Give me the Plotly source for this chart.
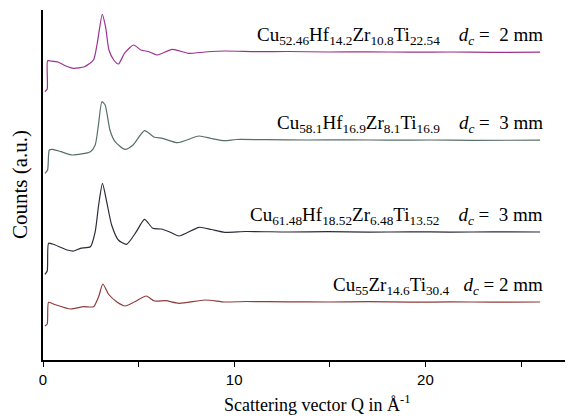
import plotly.graph_objects as go

# Scattering vector Q (1/Å) and relative counts (a.u.)
q_a = [0.10, 0.22, 0.24, 0.40, 0.78, 1.20, 1.60, 2.17, 2.64, 2.84, 3.10, 3.27, 3.45, 3.70, 3.95,
       4.26, 4.74, 5.12, 5.55, 5.98, 6.76, 7.62, 8.48, 9.51, 11.2, 12.8, 14.9, 17.0, 19.2, 21.3, 23.5, 26.0]
c_a = [268.3, 271.0, 299.3, 299.0, 298.0, 294.0, 291.7, 293.3, 300.0, 317.0, 345.7, 333.3, 310.0, 300.0, 296.0,
       306.7, 315.0, 310.0, 308.3, 305.0, 310.7, 306.7, 308.0, 309.0, 308.3, 308.5, 308.0, 308.2, 307.8, 308.0, 307.6, 307.8]

q_b = [0.10, 0.24, 0.33, 0.50, 0.94, 1.53, 2.48, 2.73, 2.91, 3.08, 3.25, 3.50, 3.77, 4.29, 4.71,
       5.31, 5.83, 6.25, 7.04, 8.16, 8.80, 9.51, 10.1, 11.7, 13.8, 16.0, 18.1, 20.3, 22.4, 26.0]
c_b = [186.7, 190.0, 210.0, 210.7, 208.3, 205.0, 208.3, 215.0, 236.7, 258.3, 255.0, 230.0, 218.3, 210.7, 215.0,
       229.3, 222.7, 221.7, 217.3, 224.0, 221.5, 219.3, 220.5, 220.3, 220.0, 220.2, 219.8, 220.0, 219.7, 219.8]

q_c = [0.10, 0.22, 0.29, 0.50, 1.27, 1.61, 1.95, 2.48, 2.73, 2.91, 3.11, 3.33, 3.59, 3.94, 4.37,
       4.88, 5.31, 5.74, 6.17, 6.60, 7.11, 8.16, 8.80, 9.51, 10.6, 12.8, 14.9, 17.0, 19.2, 21.3, 23.5, 26.0]
c_c = [85.7, 89.0, 116.7, 116.0, 110.0, 109.0, 111.7, 113.3, 128.3, 155.0, 176.7, 158.3, 135.0, 120.0, 115.7,
       128.3, 140.7, 131.7, 131.0, 128.3, 124.0, 132.7, 130.5, 127.7, 128.5, 128.0, 128.3, 127.8, 128.2, 127.9, 128.1, 128.0]

q_d = [0.10, 0.22, 0.29, 0.58, 1.44, 2.12, 2.64, 2.91, 3.13, 3.42, 3.85, 4.29, 4.80, 5.40, 5.83,
       6.43, 7.11, 8.48, 9.51, 10.6, 12.8, 14.9, 17.0, 19.2, 21.3, 23.5, 26.0]
c_d = [34.0, 36.0, 57.7, 55.7, 51.0, 53.3, 53.3, 63.3, 76.0, 66.0, 58.3, 54.0, 58.3, 64.0, 59.0,
       59.3, 56.7, 60.0, 58.0, 58.5, 58.2, 58.0, 58.3, 57.8, 58.1, 57.9, 58.0]

colors = ["#9c3290", "#566f67", "#2c2b3a", "#8e3c3c"]

labels = [
    "Cu<sub>52.46</sub>Hf<sub>14.2</sub>Zr<sub>10.8</sub>Ti<sub>22.54</sub>&nbsp;&nbsp;&nbsp;&nbsp;<i>d<sub>c</sub></i> =&nbsp; 2 mm",
    "Cu<sub>58.1</sub>Hf<sub>16.9</sub>Zr<sub>8.1</sub>Ti<sub>16.9</sub>&nbsp;&nbsp;&nbsp;&nbsp;<i>d<sub>c</sub></i> =&nbsp; 3 mm",
    "Cu<sub>61.48</sub>Hf<sub>18.52</sub>Zr<sub>6.48</sub>Ti<sub>13.52</sub>&nbsp;&nbsp;&nbsp;&nbsp;<i>d<sub>c</sub></i> =&nbsp; 3 mm",
    "Cu<sub>55</sub>Zr<sub>14.6</sub>Ti<sub>30.4</sub>&nbsp;&nbsp;&nbsp;<i>d<sub>c</sub></i> = 2 mm",
]
label_y = [308.0, 220.0, 128.0, 58.0]

x_ticks = [0, 5, 10, 15, 20, 25]
x_tick_text = ["0", "", "10", "", "20", ""]

fig = go.Figure()
for qx, cy, col in zip([q_a, q_b, q_c, q_d], [c_a, c_b, c_c, c_d], colors):
    fig.add_trace(go.Scatter(x=qx, y=cy, mode="lines", line=dict(color=col, width=1.2, shape="spline", smoothing=0.6),
                             showlegend=False, hoverinfo="skip"))

for txt, ly in zip(labels, label_y):
    fig.add_annotation(x=26.25, y=ly, xref="x", yref="y", text=txt, showarrow=False,
                       xanchor="right", yanchor="bottom", yshift=2,
                       font=dict(family="Liberation Serif", size=19, color="black"))

# axis titles as annotations for exact placement
fig.add_annotation(x=0.525, y=0, xref="paper", yref="paper", yshift=-30,
                   text="Scattering vector Q in Å<sup>-1</sup>", showarrow=False,
                   xanchor="center", yanchor="top",
                   font=dict(family="Liberation Serif", size=18, color="black"))
fig.add_annotation(x=0, y=0.5, xref="paper", yref="paper", xshift=-23,
                   text="Counts (a.u.)", showarrow=False, textangle=-90,
                   xanchor="center", yanchor="middle",
                   font=dict(family="Liberation Serif", size=21, color="black"))

fig.update_layout(
    width=568, height=420,
    margin=dict(l=43, r=3, t=10, b=60),
    paper_bgcolor="white", plot_bgcolor="white",
    xaxis=dict(range=[0, 27.3], tickvals=x_ticks, ticktext=x_tick_text, ticks="outside", ticklen=5,
               tickwidth=1, tickcolor="black", showline=True, linecolor="black", linewidth=1.5,
               showgrid=False, zeroline=False,
               tickfont=dict(family="Liberation Sans", size=15, color="black")),
    yaxis=dict(range=[0, 350], showticklabels=False, ticks="", showline=True, linecolor="black",
               linewidth=1.5, showgrid=False, zeroline=False),
)

fig.write_html("out.html")
